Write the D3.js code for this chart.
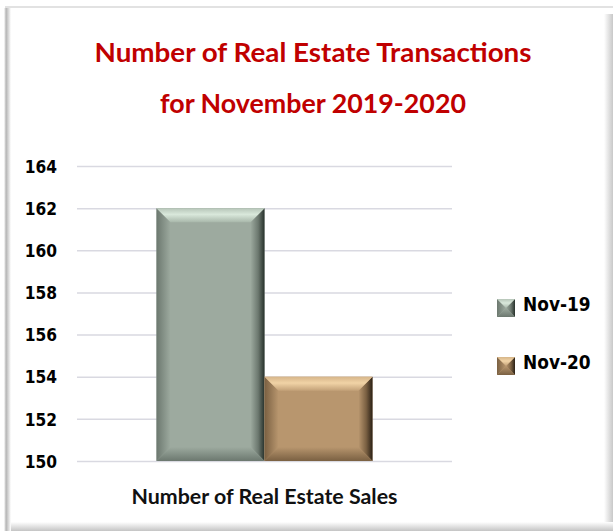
<!DOCTYPE html>
<html>
<head>
<meta charset="utf-8">
<script src="https://cdn.jsdelivr.net/npm/d3@7"></script>
<style>
  html, body { margin: 0; padding: 0; background: #fff; }
  svg { display: block; }
</style>
</head>
<body>
<svg width="613" height="531"></svg>
<script>
const categories = ['Number of Real Estate Sales'];
const seriesNames = ['Nov-19', 'Nov-20'];
const seriesValues = [162, 154];
const yTicks = [150, 152, 154, 156, 158, 160, 162, 164];

// bevel colours per series
const palette = {
  'Nov-19': { face: '#9daa9f', topOut: '#b6c5b8', topMid: '#d9e8db', topIn: '#a9b8ab', edge: '#6c786f', dark: '#27312b' },
  'Nov-20': { face: '#b8966e', topOut: '#d6b589', topMid: '#f1d3a6', topIn: '#c3a178', edge: '#7a6042', dark: '#2a2015' }
};

const svg = d3.select('svg');
const defs = svg.append('defs');

const grad = (id, dir, stops) => {
  const g = defs.append('linearGradient').attr('id', id);
  if (dir === 'v') g.attr('x1', 0).attr('y1', 0).attr('x2', 0).attr('y2', 1);
  else g.attr('x1', 0).attr('y1', 0).attr('x2', 1).attr('y2', 0);
  stops.forEach(([o, c]) => g.append('stop').attr('offset', o).attr('stop-color', c));
};

// frame shadows
grad('shL', 'h', [[0, '#ffffff'], [0.3, '#b5b5b5'], [1, '#ffffff']]);
grad('shR', 'h', [[0, '#ffffff'], [1, '#c8c8c8']]);
grad('shB', 'v', [[0, '#ffffff'], [1, '#c4c4c4']]);

svg.append('rect').attr('x', 5).attr('y', 6).attr('width', 608).attr('height', 2).attr('fill', '#e2e2e2');
svg.append('rect').attr('x', 4).attr('y', 8).attr('width', 7).attr('height', 523).attr('fill', 'url(#shL)');
svg.append('rect').attr('x', 604).attr('y', 14).attr('width', 9).attr('height', 517).attr('fill', 'url(#shR)');
svg.append('rect').attr('x', 11).attr('y', 522).attr('width', 602).attr('height', 9).attr('fill', 'url(#shB)');

// title
const title = svg.append('g')
  .attr('fill', '#c00000')
  .style('font-family', 'Lato, "Open Sans", sans-serif')
  .style('font-weight', 'bold')
  .style('font-size', '27px')
  .attr('text-anchor', 'middle');
title.append('text').attr('x', 313).attr('y', 62)
  .attr('textLength', 437).attr('lengthAdjust', 'spacingAndGlyphs')
  .text('Number of Real Estate Transactions');
title.append('text').attr('x', 313).attr('y', 113)
  .attr('textLength', 306).attr('lengthAdjust', 'spacingAndGlyphs')
  .text('for November 2019-2020');

// scales
const y = d3.scaleLinear().domain([150, 164]).range([461, 166]);
const x0 = d3.scaleBand().domain(categories).range([77, 452]).paddingOuter(0.368);
const x1 = d3.scaleBand().domain(seriesNames).range([0, x0.bandwidth()]);

// gridlines + y labels
const yAxis = d3.axisLeft(y).tickValues(yTicks).tickSize(-375).tickPadding(20).tickFormat(d3.format('d'));
const ga = svg.append('g').attr('transform', 'translate(77,0)').call(yAxis);
ga.select('.domain').remove();
ga.selectAll('.tick line').attr('stroke', '#d9d9e1').attr('stroke-width', 1.5);
ga.selectAll('.tick text')
  .attr('fill', '#000')
  .style('font-family', '"DejaVu Sans", Verdana, sans-serif')
  .style('font-weight', 'bold')
  .style('font-size', '15.5px')
  .attr('dy', '0.36em')
  .attr('transform', 'scale(1,1.12)');

// bevelled bar drawer
const bevel = (g, x, yy, w, h, b, c, id) => {
  grad(id + 't', 'v', [[0, c.topOut], [0.45, c.topMid], [1, c.topIn]]);
  grad(id + 'l', 'h', [[0, c.edge], [1, c.face]]);
  grad(id + 'r', 'h', [[0, c.face], [0.55, c.edge], [1, c.dark]]);
  grad(id + 'b', 'v', [[0, c.face], [1, c.edge]]);
  g.append('rect').attr('x', x).attr('y', yy).attr('width', w).attr('height', h).attr('fill', c.face);
  const poly = (pts, fill) => g.append('polygon').attr('points', pts.map(p => p.join(',')).join(' ')).attr('fill', fill);
  poly([[x, yy], [x + b, yy + b], [x + b, yy + h - b], [x, yy + h]], `url(#${id}l)`);
  poly([[x + w, yy], [x + w, yy + h], [x + w - b, yy + h - b], [x + w - b, yy + b]], `url(#${id}r)`);
  poly([[x, yy + h], [x + w, yy + h], [x + w - b, yy + h - b], [x + b, yy + h - b]], `url(#${id}b)`);
  poly([[x, yy], [x + w, yy], [x + w - b, yy + b], [x + b, yy + b]], `url(#${id}t)`);
};

const bars = svg.append('g');
seriesNames.forEach((s, i) => {
  const bx = x0(categories[0]) + x1(s);
  const by = y(seriesValues[i]);
  bevel(bars, bx, by, x1.bandwidth(), y(150) - by, 14, palette[s], 'bar' + i);
});

// category label
svg.append('text')
  .attr('x', x0(categories[0]) + x0.bandwidth() / 2)
  .attr('y', 504)
  .attr('text-anchor', 'middle')
  .attr('textLength', 266).attr('lengthAdjust', 'spacingAndGlyphs')
  .style('font-family', 'Lato, "Open Sans", sans-serif')
  .style('font-weight', 'bold')
  .style('font-size', '20px')
  .attr('fill', '#111')
  .text(categories[0]);

// legend
const legend = svg.append('g');
seriesNames.forEach((s, i) => {
  const ly = 299 + i * 58;
  bevel(legend, 497, ly, 18, 18, 9, palette[s], 'leg' + i);
  legend.append('text')
    .attr('transform', `translate(523,${ly + 12}) scale(1,1.12)`)
    .style('font-family', '"DejaVu Sans", Verdana, sans-serif')
    .style('font-weight', 'bold')
    .style('font-size', '17px')
    .attr('fill', '#000')
    .text(s);
});
</script>
</body>
</html>
